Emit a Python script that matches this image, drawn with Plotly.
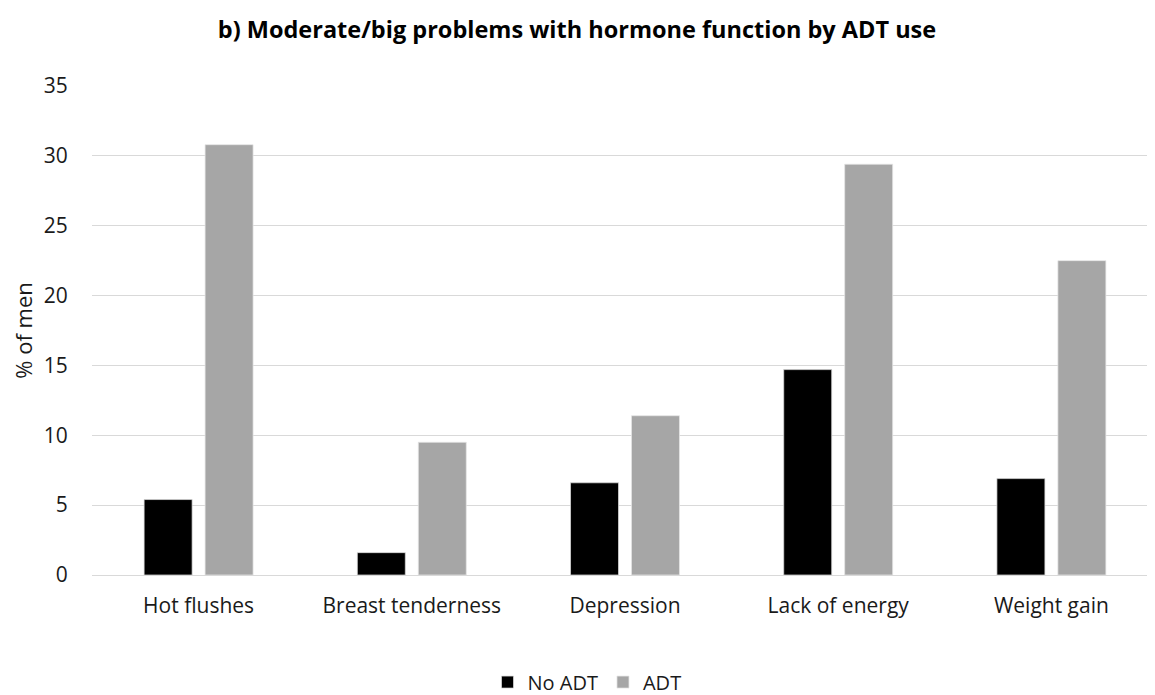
import plotly.graph_objects as go

categories = ["Hot flushes", "Breast tenderness", "Depression", "Lack of energy", "Weight gain"]
no_adt = [5.4, 1.6, 6.6, 14.7, 6.9]
adt = [30.8, 9.5, 11.4, 29.4, 22.5]
y_ticks = [0, 5, 10, 15, 20, 25, 30, 35]

FONT = "Open Sans"
TXT = "#1a1a1a"

fig = go.Figure()
fig.add_trace(go.Bar(x=categories, y=no_adt, name="No ADT",
                     marker=dict(color="#000000", line=dict(color="#d9d9d9", width=0.75))))
fig.add_trace(go.Bar(x=categories, y=adt, name="ADT",
                     marker=dict(color="#a6a6a6", line=dict(color="#e6e6e6", width=0.75))))

fig.update_layout(
    width=1160, height=687,
    paper_bgcolor="white", plot_bgcolor="white",
    margin=dict(l=84, r=10, t=78, b=120, autoexpand=False),
    barmode="group", bargap=0.428, bargroupgap=0.213,
    font=dict(family=FONT, color=TXT, size=21),
    title=dict(text="<b>b) Moderate/big problems with hormone function by ADT use</b>",
               x=(577 - 8) / 1160, xanchor="center", y=0.968, yanchor="middle",
               font=dict(family=FONT, size=23.5, color="#000000")),
    legend=dict(orientation="h", x=(587 - 92) / 1066, xanchor="center", y=-0.219, yanchor="middle",
                font=dict(family=FONT, size=20, color=TXT), traceorder="normal"),
    showlegend=True,
)
fig.update_yaxes(range=[0, 35], tickvals=y_ticks, showgrid=True, gridcolor="#d9d9d9",
                 gridwidth=1, zeroline=True, zerolinecolor="#d9d9d9", zerolinewidth=1,
                 showline=False, ticks="outside", ticklen=19, tickcolor="rgba(0,0,0,0)",
                 automargin=False,
                 title=dict(text="% of men", font=dict(family=FONT, size=22, color=TXT), standoff=12),
                 tickfont=dict(family=FONT, size=21, color=TXT))
fig.update_xaxes(showline=True, linecolor="#d9d9d9", linewidth=1,
                 ticks="outside", ticklen=12, tickcolor="rgba(0,0,0,0)", automargin=False,
                 tickfont=dict(family=FONT, size=21, color=TXT))

fig.write_html("out.html")
